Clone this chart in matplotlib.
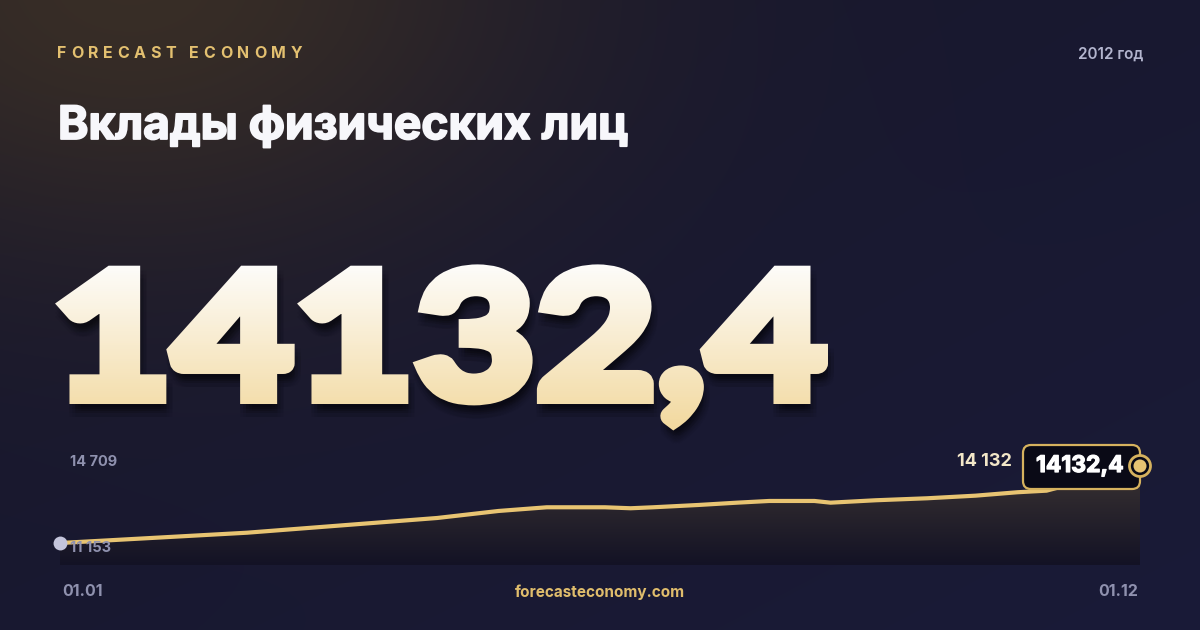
import matplotlib
matplotlib.use('Agg')
import matplotlib.pyplot as plt
import matplotlib.patheffects as pe
from matplotlib.patches import FancyBboxPatch, Circle
from matplotlib.transforms import Bbox, Affine2D
from matplotlib.font_manager import FontProperties
from matplotlib.textpath import TextPath, text_to_path
from matplotlib.colors import to_rgb
import numpy as np
import pandas as pd

# данные (читаются с графика)
dates = ['2012-01-01', '2012-02-28', '2012-04-27', '2012-05-16', '2012-05-31',
         '2012-06-18', '2012-06-26', '2012-07-03', '2012-07-17', '2012-07-29',
         '2012-08-08', '2012-08-22', '2012-08-27', '2012-09-10', '2012-09-26',
         '2012-10-11', '2012-10-24', '2012-11-02', '2012-12-01']
values = [11153, 11551, 12120, 12391, 12534,
          12534, 12496, 12534, 12623, 12712,
          12778, 12778, 12712, 12805, 12882,
          12983, 13115, 13176, 14132.4]
y_top_value = 14709
title = 'Вклады физических лиц'
brand = 'FORECAST ECONOMY'
year_label = '2012 год'
site = 'forecasteconomy.com'
x_labels = ['01.01', '01.12']

GOLD = '#e8c472'
W, H = 1200, 630


def fmt_thousands(v):
    return '{:,}'.format(int(round(v))).replace(',', ' ')


def fmt_decimal(v):
    return ('%.1f' % v).replace('.', ',')


class GradientText(pe.AbstractPathEffect):
    """вертикальный градиент + растяжение по x + обводка + мягкая тень"""

    def __init__(self, c_top, c_bot, y_top, y_bot, x0, sx=1.0, lw=0.0, shadow=True):
        super().__init__()
        self.c_top = np.array(to_rgb(c_top))
        self.c_bot = np.array(to_rgb(c_bot))
        self.y_top, self.y_bot = y_top, y_bot
        self.x0, self.sx = x0, sx
        self.lw = lw * 0.72  # px -> pt
        self.shadow = shadow

    def draw_path(self, renderer, gc, tpath, affine, rgbFace=None):
        hh = renderer.height
        ww = renderer.width
        stretch = Affine2D().translate(-self.x0, 0).scale(self.sx, 1).translate(self.x0, 0)
        aff = affine + stretch
        if self.shadow:
            for dx in (0, 3, 6):
                for dy in (-5, -9, -13):
                    g = renderer.new_gc()
                    g.copy_properties(gc)
                    g.set_linewidth(self.lw)
                    g.set_joinstyle('miter')
                    g.set_foreground((0, 0, 0))
                    g.set_alpha(0.045)
                    renderer.draw_path(g, tpath, aff + Affine2D().translate(dx, dy), (0, 0, 0))
                    g.restore()
        edges = np.arange(int(self.y_top), int(self.y_bot) + 2, 2)
        for i in range(len(edges) - 1):
            t = i / max(len(edges) - 2, 1)
            col = tuple(self.c_top * (1 - t) + self.c_bot * t)
            top_px = edges[i] if i > 0 else -2000
            bot_px = edges[i + 1] if i < len(edges) - 2 else H + 2000
            g = renderer.new_gc()
            g.copy_properties(gc)
            g.set_linewidth(self.lw)
            g.set_joinstyle('miter')
            g.set_foreground(col)
            g.set_clip_rectangle(Bbox.from_extents(0, hh - bot_px, ww, hh - top_px))
            renderer.draw_path(g, tpath, aff, col)
            g.restore()


fig = plt.figure(figsize=(12, 6.3), dpi=100)

# фон
bg = fig.add_axes([0, 0, 1, 1])
bg.set_xlim(0, W)
bg.set_ylim(H, 0)
bg.axis('off')
yy, xx = np.mgrid[0:H, 0:W]
t = (xx / W) * 0.5 + (yy / H) * 0.5
base = np.array([23, 22, 41]) * (1 - t)[..., None] + np.array([26, 27, 56]) * t[..., None]
d = np.hypot(xx - 130, (yy + 20) * 1.5)
g = (np.exp(-(d / 420) ** 2) * 0.95)[..., None]
warm = np.array([58, 47, 38])
img = (base * (1 - g) + warm * g) / 255.0
bg.imshow(img, extent=[0, W, H, 0], aspect='auto', interpolation='bilinear', zorder=0)

# график
x_left, x_right, y_axis_top, y_axis_bot = 60, 1140, 451, 565
ax = fig.add_axes([x_left / W, (H - y_axis_bot) / H, (x_right - x_left) / W,
                   (y_axis_bot - y_axis_top) / H])
ax.set_zorder(1)
ax.patch.set_alpha(0)
ax.axis('off')

dt = pd.to_datetime(dates)
xs = np.array((dt - dt[0]).days, dtype=float)
vals = np.array(values, dtype=float)
y_lo = vals.min() - (y_top_value - vals.min()) * 0.239
ax.set_xlim(xs[0], xs[-1])
ax.set_ylim(y_lo, y_top_value)

poly = ax.fill_between(xs, vals, y_lo, color='none', linewidth=0)
grad = np.linspace(0, 1, 200)[:, None]
c_top = np.array([64, 56, 52]) / 255
c_bot = np.array([19, 18, 37]) / 255
gimg = c_top * (1 - grad[..., None]) + c_bot * grad[..., None]
gimg = np.repeat(gimg, 2, axis=1)
im = ax.imshow(gimg, extent=[xs[0], xs[-1], y_lo, y_top_value], aspect='auto',
               origin='upper', zorder=1, interpolation='bilinear')
im.set_clip_path(poly.get_paths()[0], transform=ax.transData)
ax.plot(xs, vals, color=GOLD, linewidth=3.0, solid_capstyle='butt', zorder=3)
ax.plot(xs[0], vals[0], 'o', color='#c4c5dc', markersize=10, markeredgewidth=0,
        zorder=4, clip_on=False)

# верхний слой
top = fig.add_axes([0, 0, 1, 1])
top.set_zorder(2)
top.patch.set_alpha(0)
top.set_xlim(0, W)
top.set_ylim(H, 0)
top.axis('off')

# FORECAST ECONOMY (разрядка)
bp = FontProperties(family=['Inter', 'DejaVu Sans'], weight='bold', size=11.5)
tw = lambda s: text_to_path.get_text_width_height_descent(s, bp, ismath=False)[0] * 100 / 72
track = (245 - tw(brand)) / (len(brand) - 1)
for i, ch in enumerate(brand):
    top.text(57 + tw(brand[:i]) + i * track, 53.5, ch, fontproperties=bp, color='#e3c070',
             va='center', ha='left')

top.text(1143, 54, year_label, family=['Inter', 'DejaVu Sans'], weight='semibold',
         fontsize=11, color='#b3b5ce', ha='right', va='center')

# заголовок
tp = FontProperties(family=['Inter', 'DejaVu Sans'], weight='bold')
w100 = TextPath((0, 0), title, size=100, prop=tp).get_extents().width
title_px = 100 * 566 / w100
top.text(58, 139, title, fontproperties=tp, fontsize=title_px * 0.72, color='#f7f7fb',
         ha='left', va='baseline',
         path_effects=[pe.withStroke(linewidth=1.3, foreground='#f7f7fb')])

# большое число
big = fmt_decimal(values[-1])
stroke = 12
np_prop = FontProperties(family=['Lato', 'DejaVu Sans'], weight='black')
ext_d = TextPath((0, 0), '14132', size=100, prop=np_prop).get_extents()
ext_all = TextPath((0, 0), big, size=100, prop=np_prop).get_extents()
big_px = 100 * (141 - stroke) / ext_d.height
sx = (770 - stroke) / (ext_all.width * big_px / 100)
x_disp = 58 + stroke / 2 - ext_all.x0 * big_px / 100 * sx
top.text(x_disp, 404 - stroke / 2, big, fontproperties=np_prop, fontsize=big_px * 0.72,
         ha='left', va='baseline', color='#f8edd0',
         path_effects=[GradientText('#fdfcfa', '#f1d698', 263, 440, x_disp, sx=sx, lw=stroke)])

# подписи оси
lp = dict(family=['Inter', 'DejaVu Sans'], weight='bold', fontsize=10.5, color='#8f91ae')
top.text(70, 462, fmt_thousands(y_top_value), ha='left', va='center', **lp)
top.text(70, 548, fmt_thousands(vals.min()), ha='left', va='center', **lp)
lp['fontsize'] = 11.5
top.text(62, 592, x_labels[0], ha='left', va='center', **lp)
top.text(1138, 592, x_labels[1], ha='right', va='center', **lp)
top.text(600, 592, site, family=['Inter', 'DejaVu Sans'], weight='bold', fontsize=11,
         color='#e0bd6c', ha='center', va='center')

# последнее значение
top.text(1012, 462, fmt_thousands(values[-1]), family=['Inter', 'DejaVu Sans'],
         weight='bold', fontsize=13, color='#f3e7c8', ha='right', va='center')
box = FancyBboxPatch((1023, 445), 117, 44, boxstyle='round,pad=0,rounding_size=8',
                     facecolor='#0a0a16', edgecolor='#d6b25e', linewidth=1.6, zorder=5)
top.add_patch(box)
top.text(1036, 466, fmt_decimal(values[-1]), family=['Inter', 'DejaVu Sans'],
         weight='bold', fontsize=16.5, color='#ffffff', ha='left', va='center', zorder=6,
         path_effects=[pe.withStroke(linewidth=0.9, foreground='#ffffff')])
top.add_patch(Circle((1140, 466), 10.5, facecolor='#0a0a16', edgecolor='#d6b25e',
                     linewidth=2.0, zorder=7))
top.add_patch(Circle((1140, 466), 6.5, facecolor='#e8c472', edgecolor='none', zorder=8))

fig.savefig('out.png', dpi=100)
